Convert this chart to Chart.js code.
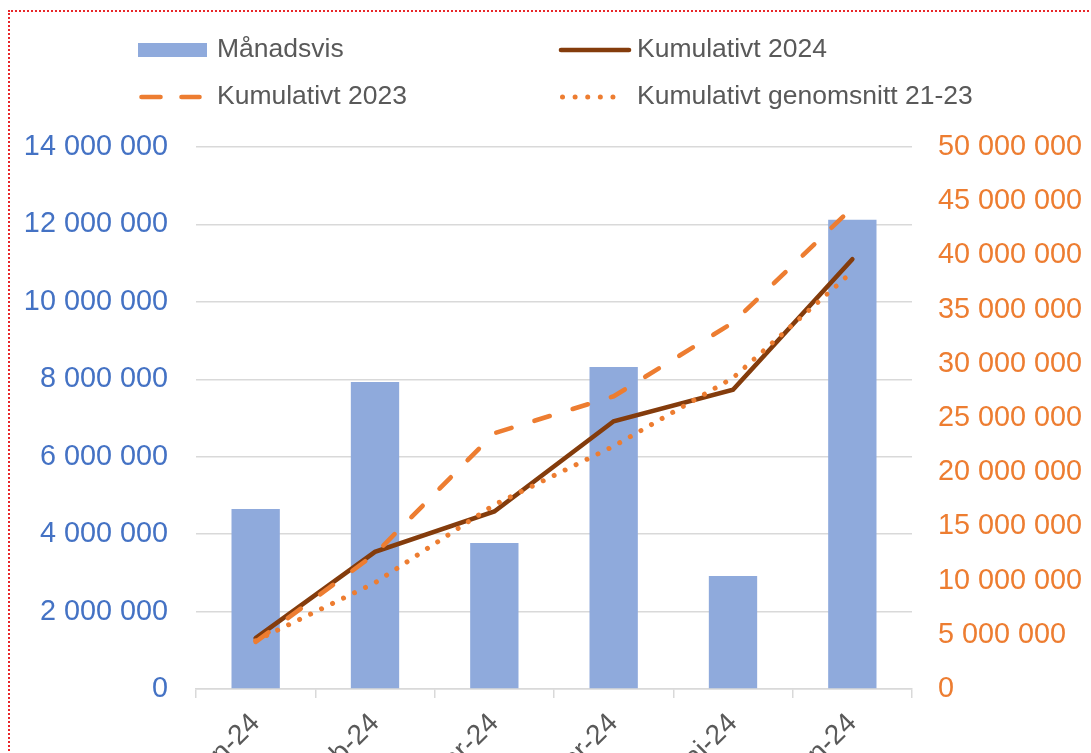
<!DOCTYPE html>
<html>
<head>
<meta charset="utf-8">
<script src="https://cdn.jsdelivr.net/npm/chart.js@4.4.1/dist/chart.umd.min.js"></script>
<style>
  html, body { margin: 0; padding: 0; background: #ffffff; }
  #wrap { position: relative; width: 1091px; height: 753px; overflow: hidden; }
  #frame { position: absolute; left: 8px; top: 10px; right: -10px; bottom: -10px;
           border-left: 2px dotted #e8262a; border-top: 2px dotted #e8262a; pointer-events: none; }
  canvas { position: absolute; left: 0; top: 0; }
</style>
</head>
<body>
<div id="wrap">
  <canvas id="c" width="1091" height="753"></canvas>
  <div id="frame"></div>
</div>
<script>
// ---- data ----
const categories = ['jan-24', 'feb-24', 'mar-24', 'apr-24', 'mai-24', 'jun-24'];
const manadsvis = [4650000, 7930000, 3770000, 8320000, 2920000, 12120000];
const kumulativt2024 = [4700000, 12650000, 16370000, 24700000, 27600000, 39650000];
const kumulativt2023 = [4350000, 12450000, 23600000, 27000000, 33800000, 44400000];
const genomsnitt2123 = [4450000, 9800000, 17000000, 22400000, 28700000, 38500000];
const seriesNames = ['Månadsvis', 'Kumulativt 2024', 'Kumulativt 2023', 'Kumulativt genomsnitt 21-23'];
const leftTicks = [0, 2000000, 4000000, 6000000, 8000000, 10000000, 12000000, 14000000];
const rightTicks = [0, 5000000, 10000000, 15000000, 20000000, 25000000, 30000000, 35000000, 40000000, 45000000, 50000000];

const FONT = "'Liberation Sans', Arial, sans-serif";
const fmt = v => String(Math.round(v)).replace(/\B(?=(\d{3})+(?!\d))/g, ' ');

// legend slots (position only)
const legendSlots = [
  { x: 138, x2: 207, y: 50, tx: 217 },
  { x: 559, x2: 631, y: 50, tx: 637 },
  { x: 139, x2: 202, y: 97, tx: 217 },
  { x: 560, x2: 624, y: 97, tx: 637 }
];

const legendPlugin = {
  id: 'customLegend',
  afterDraw(chart) {
    const ctx = chart.ctx;
    chart.data.datasets.forEach((ds, i) => {
      const s = legendSlots[i];
      ctx.save();
      if (ds.type === 'bar') {
        ctx.fillStyle = ds.backgroundColor;
        ctx.fillRect(s.x, s.y - 7, s.x2 - s.x, 14);
      } else {
        ctx.strokeStyle = ds.borderColor;
        ctx.lineWidth = ds.borderWidth;
        ctx.lineCap = ds.borderCapStyle || 'butt';
        ctx.setLineDash(ds.legendDash || []);
        ctx.beginPath();
        ctx.moveTo(s.x + (ds.legendCapInset || 0), s.y);
        ctx.lineTo(s.x2 - (ds.legendCapInset || 0), s.y);
        ctx.stroke();
      }
      ctx.setLineDash([]);
      ctx.fillStyle = '#595959';
      ctx.font = '26.5px ' + FONT;
      ctx.textBaseline = 'middle';
      ctx.textAlign = 'left';
      ctx.fillText(ds.label, s.tx, s.y);
      ctx.restore();
    });
  }
};

new Chart(document.getElementById('c'), {
  data: {
    labels: categories,
    datasets: [
      {
        type: 'bar', label: seriesNames[0], data: manadsvis, yAxisID: 'y',
        backgroundColor: '#8faadc', borderWidth: 0,
        barPercentage: 1.0, categoryPercentage: 0.405, order: 10
      },
      {
        type: 'line', label: seriesNames[1], data: kumulativt2024, yAxisID: 'y1',
        borderColor: '#843c0c', borderWidth: 4.6, pointRadius: 0, tension: 0,
        borderCapStyle: 'round', borderJoinStyle: 'miter', fill: false, order: 3,
        legendDash: [], legendCapInset: 2
      },
      {
        type: 'line', label: seriesNames[2], data: kumulativt2023, yAxisID: 'y1',
        borderColor: '#ed7d31', borderWidth: 4.6, pointRadius: 0, tension: 0,
        borderDash: [16, 24], borderCapStyle: 'round', fill: false, order: 2,
        legendDash: [19, 21], legendCapInset: 2.5
      },
      {
        type: 'line', label: seriesNames[3], data: genomsnitt2123, yAxisID: 'y1',
        borderColor: '#ed7d31', borderWidth: 5, pointRadius: 0, tension: 0,
        borderDash: [0.01, 12.2], borderCapStyle: 'round', fill: false, order: 1,
        legendDash: [0.01, 12.6], legendCapInset: 2.5
      }
    ]
  },
  options: {
    responsive: false,
    animation: false,
    events: [],
    layout: { padding: { top: 147, left: 0, right: 0, bottom: 0 } },
    plugins: { legend: { display: false }, tooltip: { enabled: false }, title: { display: false } },
    scales: {
      x: {
        type: 'category',
        offset: true,
        grid: { offset: true, drawOnChartArea: false, drawTicks: true, tickLength: 9, color: '#d9d9d9', lineWidth: 1.5 },
        border: { display: true, color: '#d9d9d9', width: 1.5 },
        ticks: {
          color: '#595959', font: { family: FONT, size: 28 },
          minRotation: 45, maxRotation: 45, autoSkip: false, padding: 9
        },
        afterFit(scale) { scale.height = 64; }
      },
      y: {
        position: 'left', min: 0, max: 14000000,
        afterBuildTicks(scale) { scale.ticks = leftTicks.map(v => ({ value: v })); },
        grid: { color: '#d9d9d9', lineWidth: 1.5, drawTicks: false },
        border: { display: false },
        ticks: { color: '#4472c4', font: { family: FONT, size: 28.8 }, padding: 28, callback: v => fmt(v) },
        afterFit(scale) { scale.width = 196; }
      },
      y1: {
        position: 'right', min: 0, max: 50000000,
        afterBuildTicks(scale) { scale.ticks = rightTicks.map(v => ({ value: v })); },
        grid: { drawOnChartArea: false, drawTicks: false },
        border: { display: false },
        ticks: { color: '#ed7d31', font: { family: FONT, size: 28.8 }, padding: 26, callback: v => fmt(v) },
        afterFit(scale) { scale.width = 179; }
      }
    }
  },
  plugins: [legendPlugin]
});
</script>
</body>
</html>
